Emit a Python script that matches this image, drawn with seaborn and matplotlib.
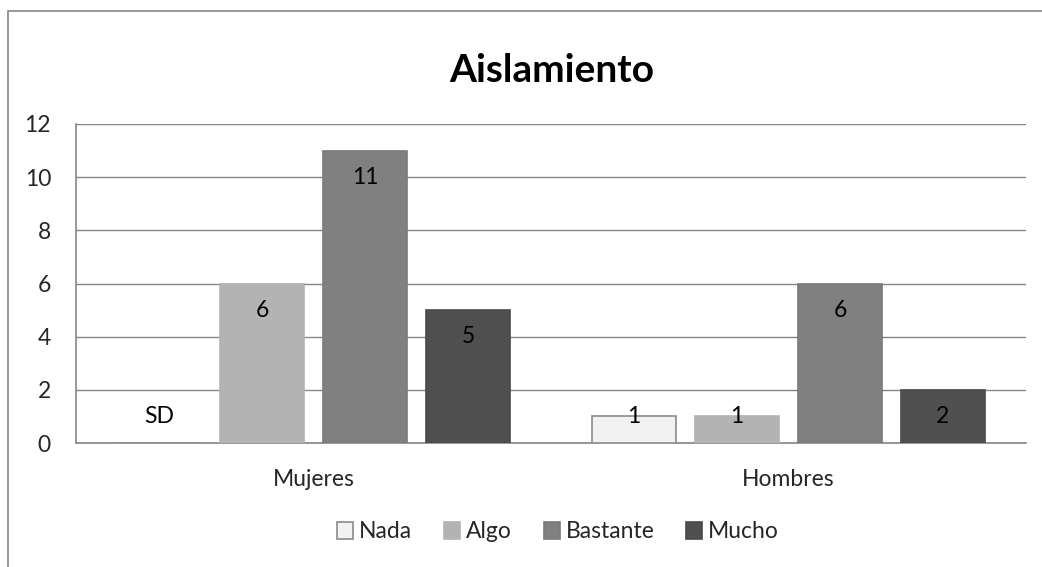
import matplotlib
matplotlib.use("Agg")
import matplotlib.pyplot as plt
import seaborn as sns
import pandas as pd
from matplotlib.patches import Rectangle, Patch

groups = ["Mujeres", "Hombres"]
levels = ["Nada", "Algo", "Bastante", "Mucho"]
mujeres = [0, 6, 11, 5]
hombres = [1, 1, 6, 2]
labels_mujeres = ["SD", "6", "11", "5"]
labels_hombres = ["1", "1", "6", "2"]
colors = ["#F2F2F2", "#B3B3B3", "#808080", "#505050"]
edges = ["#8A8A8A", "#B3B3B3", "#7A7A7A", "#4A4A4A"]
yticks = [0, 2, 4, 6, 8, 10, 12]

rows = []
for g, vals in zip(groups, [mujeres, hombres]):
    for lv, v in zip(levels, vals):
        rows.append({"grupo": g, "nivel": lv, "valor": v})
df = pd.DataFrame(rows)

sns.set_theme(style="white")
plt.rcParams["font.family"] = ["Lato", "DejaVu Sans"]

FS = 16.5

fig = plt.figure(figsize=(10.42, 5.67), dpi=100)
ax = fig.add_axes([76 / 1042, 1 - 443 / 567, (1026 - 76) / 1042, (443 - 124) / 567])

sns.barplot(data=df, x="grupo", y="valor", hue="nivel", order=groups,
            hue_order=levels, palette=colors, width=0.867, gap=0.19,
            saturation=1, legend=False, ax=ax, zorder=3)

bars_by_hue = ax.containers
for cont, ec in zip(bars_by_hue, edges):
    for p in cont:
        p.set_edgecolor(ec)
        p.set_linewidth(1.2)

all_labels = [labels_mujeres, labels_hombres]
for hi, cont in enumerate(bars_by_hue):
    for gi, p in enumerate(cont):
        txt = all_labels[gi][hi]
        x = p.get_x() + p.get_width() / 2
        h = p.get_height()
        y = h - 1.0 if h >= 2 else 1.0
        ax.text(x, y, txt, ha="center", va="center", fontsize=FS,
                color="black", zorder=5)

ax.set_ylim(0, 12)
ax.set_yticks(yticks)
ax.set_yticklabels([str(t) for t in yticks], fontsize=FS)
ax.set_xlim(-0.5, 1.5)
ax.tick_params(axis="x", labelsize=FS, pad=19, length=0)
ax.tick_params(axis="y", length=0, pad=18)
ax.set_xlabel("")
ax.set_ylabel("")
ax.grid(axis="y", color="#868686", linewidth=1, zorder=0)
ax.set_axisbelow(True)
for s in ["top", "right"]:
    ax.spines[s].set_visible(False)
for s in ["left", "bottom"]:
    ax.spines[s].set_color("#868686")
    ax.spines[s].set_linewidth(1.2)

fig.text(552 / 1042, 1 - 70 / 567, "Aislamiento", ha="center", va="center",
         fontsize=28, fontweight="bold", color="black")

handles = [Patch(facecolor=c, edgecolor=e, linewidth=1.2) for c, e in zip(colors, edges)]
fig.legend(handles, levels, loc="center", bbox_to_anchor=(558 / 1042, 1 - 532 / 567),
           ncol=4, frameon=False, fontsize=FS, handlelength=0.7, handleheight=0.7,
           handletextpad=0.25, columnspacing=1.4)

fig.patches.append(Rectangle((8 / 1042, -0.1), 1.1, 1 - 11 / 567 + 0.1,
                             transform=fig.transFigure, fill=False,
                             edgecolor="#868686", linewidth=1.2, figure=fig))

fig.savefig("out.png", dpi=100)
